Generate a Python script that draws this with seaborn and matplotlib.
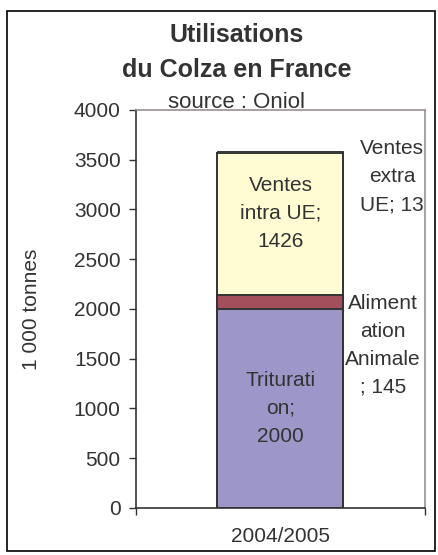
import pandas as pd
import seaborn as sns
import matplotlib.pyplot as plt
from matplotlib.patches import Rectangle

# data
season = ['2004/2005']
segments = ['Trituration', 'Alimentation Animale', 'Ventes intra UE', 'Ventes extra UE']
values = [2000, 145, 1426, 13]
labels = ['Triturati\non;\n2000', 'Aliment\nation\nAnimale\n; 145',
          'Ventes\nintra UE;\n1426', 'Ventes\nextra\nUE; 13']
colors = ['#9C96C9', '#A4505C', '#FFFBD2', '#CCFFFF']

df = pd.DataFrame({'Saison': season * len(segments), 'Usage': segments, 'Valeur': values})
df['Cumul'] = df['Valeur'].cumsum()
df['Base'] = df['Cumul'] - df['Valeur']

sns.set_style('white')
plt.rcParams['font.family'] = ['Liberation Sans', 'DejaVu Sans']
txt = '#333333'

fig = plt.figure(figsize=(4.38, 5.55), dpi=100)
ax = fig.add_axes([0.3105, 0.0847, 0.6595, 0.7173])

# stacked bar: draw cumulative totals from the top down
for i in reversed(range(len(df))):
    sub = df.iloc[[i]]
    lw = 0.7 if i == len(df) - 1 else 1.4
    sns.barplot(x='Saison', y='Cumul', data=sub, color=colors[i], width=0.436,
                edgecolor='#333333', linewidth=lw, saturation=1, ax=ax)

# labels
ls = 1.6
row = df.iloc[0]
ax.text(0, row['Base'] + row['Valeur'] / 2, labels[0], ha='center', va='center',
        fontsize=15, color=txt, linespacing=ls)
row = df.iloc[2]
ax.text(0, row['Base'] + row['Valeur'] / 2 + 105, labels[2], ha='center', va='center',
        fontsize=15, color=txt, linespacing=ls)
row = df.iloc[1]
ax.text(0.355, row['Base'] + row['Valeur'] / 2 + 80, labels[1], ha='center', va='top',
        fontsize=15, color=txt, linespacing=ls)
row = df.iloc[3]
ax.text(0.386, row['Cumul'] - 257, labels[3], ha='center', va='center',
        fontsize=15, color=txt, linespacing=ls)

ax.set_ylim(0, 4000)
ax.set_xlim(-0.5, 0.5)
ax.set_yticks(range(0, 4001, 500))
ax.tick_params(axis='y', labelsize=15, labelcolor=txt, length=5, width=1,
               direction='out', left=True, pad=6, color='#333333')
ax.set_xticks([0])
ax.set_xticklabels(season)
ax.tick_params(axis='x', which='major', labelsize=15, labelcolor=txt, length=0, pad=14)
ax.set_xticks([-0.5, 0.5], minor=True)
ax.tick_params(axis='x', which='minor', length=5, width=1, direction='out',
               bottom=True, color='#333333')
ax.set_xlabel('')
ax.set_ylabel('1 000 tonnes', fontsize=15, color=txt)
ax.yaxis.set_label_coords(-0.33, 0.5)

for s in ['left', 'bottom']:
    ax.spines[s].set_color('#333333')
    ax.spines[s].set_linewidth(1.2)
for s in ['top', 'right']:
    ax.spines[s].set_color('#9A8F8F')
    ax.spines[s].set_linewidth(1.2)

fig.text(0.54, 0.937, 'Utilisations', ha='center', va='center', fontsize=18,
         fontweight='bold', color=txt)
fig.text(0.54, 0.874, 'du Colza en France', ha='center', va='center', fontsize=18,
         fontweight='bold', color=txt)
fig.text(0.54, 0.815, 'source : Oniol', ha='center', va='center', fontsize=16, color=txt)

fig.patches.append(Rectangle((7 / 438, 4 / 555), 428 / 438, 540 / 555,
                             transform=fig.transFigure, fill=False,
                             edgecolor='black', linewidth=1.2))

fig.savefig('out.png', dpi=100)
